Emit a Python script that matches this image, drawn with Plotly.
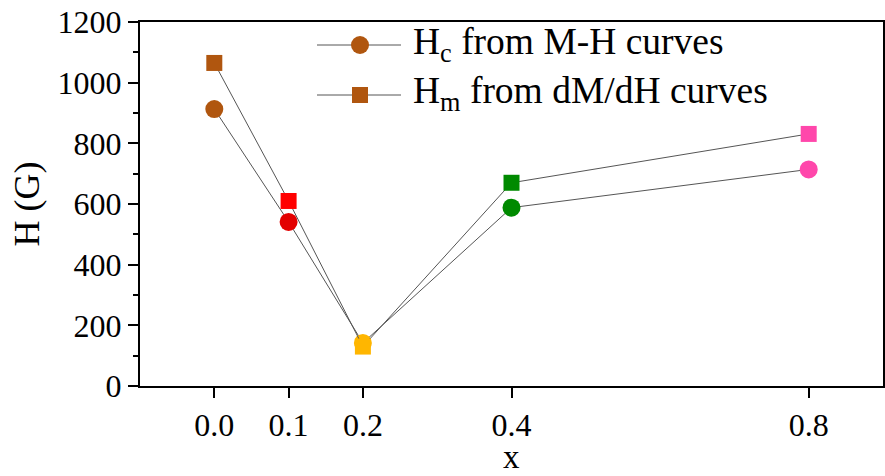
import plotly.graph_objects as go

# Composition x and the two characteristic fields (G)
x_vals = [0.0, 0.1, 0.2, 0.4, 0.8]
hc_vals = [913, 541, 142, 588, 714]
hm_vals = [1065, 610, 130, 670, 831]

# Per-composition marker colours
circle_colors = ["#B0560F", "#E30000", "#FFB600", "#008A00", "#FF47AB"]
square_colors = ["#B0560F", "#FF0000", "#FFB600", "#008A00", "#FF47AB"]

tick_vals = [0.0, 0.1, 0.2, 0.4, 0.8]
tick_text = ["0.0", "0.1", "0.2", "0.4", "0.8"]
legend_labels = ["H<sub>c</sub> from M-H curves", "H<sub>m</sub> from dM/dH curves"]

FONT = "Liberation Serif, Times New Roman, serif"
W, H = 885, 476
ML, MR, MT, MB = 140, 2, 22, 90
PW, PH = W - ML - MR, H - MT - MB

fig = go.Figure()
fig.add_trace(go.Scatter(
    x=x_vals, y=hc_vals, mode="lines+markers", name=legend_labels[0],
    line=dict(color="#555555", width=1),
    marker=dict(symbol="circle", size=18, color=circle_colors, line=dict(width=0)),
    showlegend=False,
))
fig.add_trace(go.Scatter(
    x=x_vals, y=hm_vals, mode="lines+markers", name=legend_labels[1],
    line=dict(color="#555555", width=1),
    marker=dict(symbol="square", size=16, color=square_colors, line=dict(width=0)),
    showlegend=False,
))


def px(xp):
    return (xp - ML) / PW


def py(yp):
    return (H - MB - yp) / PH


# Hand-built legend with long sample lines
shapes = []
annotations = []
rows = [(45, "circle", 18), (95, "square", 16)]
for (yc, sym, sz), label in zip(rows, legend_labels):
    shapes.append(dict(type="line", xref="paper", yref="paper",
                       x0=px(317), x1=px(401), y0=py(yc), y1=py(yc),
                       line=dict(color="#555555", width=1), layer="above"))
    kind = "circle" if sym == "circle" else "rect"
    h = sz / 2
    shapes.append(dict(type=kind, xref="paper", yref="paper",
                       x0=px(360 - h), x1=px(360 + h), y0=py(yc - h), y1=py(yc + h),
                       fillcolor=circle_colors[0], line=dict(width=0), layer="above"))
    annotations.append(dict(xref="paper", yref="paper", x=px(411), y=py(yc - 1),
                            xanchor="left", yanchor="middle", showarrow=False,
                            text=label, font=dict(family=FONT, size=37.5, color="black")))

# x-axis title placed low, near the bottom edge
annotations.append(dict(xref="paper", yref="paper", x=0.5, y=py(457),
                        xanchor="center", yanchor="middle", showarrow=False,
                        text="x", font=dict(family=FONT, size=33, color="black")))

axis_common = dict(
    showline=True, mirror=True, linecolor="black", linewidth=2,
    ticks="outside", ticklen=10, tickwidth=2, tickcolor="black",
    showgrid=False, zeroline=False, automargin=False,
    tickfont=dict(family=FONT, size=32, color="black"),
)

fig.update_layout(
    width=W, height=H,
    margin=dict(l=ML, r=MR, t=MT, b=MB),
    paper_bgcolor="white", plot_bgcolor="white",
    shapes=shapes, annotations=annotations,
    xaxis=dict(range=[-0.1, 0.9], tickvals=tick_vals, ticktext=tick_text,
               **axis_common),
    yaxis=dict(range=[0, 1200], dtick=200,
               minor=dict(dtick=100, ticks="outside", ticklen=5, tickwidth=2, tickcolor="black"),
               title=dict(text="H (G)", font=dict(family=FONT, size=36, color="black"), standoff=7),
               **axis_common),
)

fig.write_html("out.html")
